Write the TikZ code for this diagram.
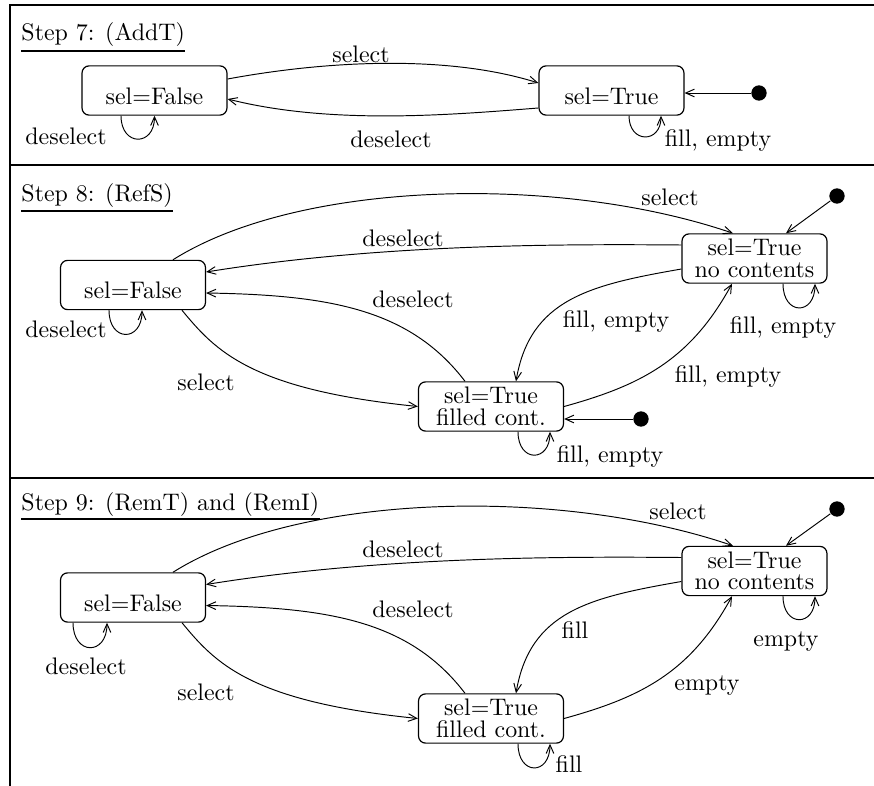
\documentclass[tikz,border=0pt]{standalone}
\usepackage{tikz}
\usetikzlibrary{arrows.meta, calc}

\tikzset{
  state/.style={draw, line width=0.5pt, rounded corners=3pt, minimum width=60.6pt, minimum height=20.6pt, inner xsep=2pt, inner ysep=0pt},
  onestate/.style={state, text height=16pt, text depth=4.6pt},
  twostate/.style={state, align=center},
  initdot/.style={circle, fill=black, inner sep=0pt, minimum size=6.4pt},
  trans/.style={line width=0.4pt, -{Straight Barb[length=3.6pt,width=3.2pt]}},
  lbl/.style={inner sep=0pt},
  frameline/.style={line width=0.5pt},
  steptitle/.style={inner sep=0pt, anchor=base west},
  titleline/.style={line width=1pt}
}

\begin{document}
\begin{tikzpicture}[x=0.418pt, y=-0.418pt]
    \useasboundingbox (0,0) rectangle (874,786);
    % Rahmen
    \draw[frameline] (10,786) -- (10,5) -- (874,5);
    \draw[frameline] (10,165) -- (874,165);
    \draw[frameline] (10,478) -- (874,478);

    % Step 7
    \node[steptitle] (t7) at (21,41) {Step 7: (AddT)};
    \draw[titleline] ($(t7.base west)+(0,10)$) -- ($(t7.base east)+(0,10)$);
    \node[onestate] (F7) at (154.5,90.5) {sel=False};
    \node[onestate] (T7) at (611.5,90.5) {sel=True};
    \node[initdot] (d7) at (759,93) {};
    \draw[trans] (d7) -- (d7 -| T7.east);
    \draw[trans] ($(F7.east)+(0,-11.5)$) .. controls +(103,-19) and +(-89,-28) .. ($(T7.west)+(0,-7.5)$);
    \draw[trans] ($(T7.west)+(0,17.5)$) .. controls +(-89,7) and +(103,26) .. ($(F7.east)+(0,8.5)$);
    \draw[trans] ($(F7.south)+(-33.5,0)$) .. controls +(0,31) and +(0,31) .. (F7.south);
    \draw[trans] ($(T7.south)+(17.5,0)$) .. controls +(0,28) and +(0,28) .. ($(T7.south)+(49.5,0)$);
    \node[lbl] (l7a) at (361,54) {select};
    \node[lbl] (l7b) at (391,139) {deselect};
    \node[lbl] (l7c) at (66,136) {deselect};
    \node[lbl] (l7d) at (718,141) {fill, empty};

    % Step 8
    \node[steptitle] (t8) at (21,202) {Step 8: (RefS)};
    \draw[titleline] ($(t8.base west)+(0,9)$) -- ($(t8.base east)+(0,9)$);
    \node[onestate] (F8) at (133,285) {sel=False};
    \node[twostate] (N8) at (754.5,258.5) {sel=True\\[-3pt]no contents};
    \node[twostate] (C8) at (491,406.5) {sel=True\\[-3pt]filled cont.};
    \node[initdot] (e8) at (837,196) {};
    \node[initdot] (g8) at (641,419) {};
    \draw[trans] (e8) -- ($(N8.north)+(31.5,0)$);
    \draw[trans] (g8) -- (g8 -| C8.east);
    \draw[trans] ($(F8.north)+(40,0)$) .. controls +(127,-80) and +(-173,-59) .. ($(N8.north)+(-21.5,0)$);
    \draw[trans] ($(N8.west)+(0,-13.5)$) .. controls +(-122,-1) and +(174,-28) .. ($(F8.east)+(0,-13)$);
    \draw[trans] ($(C8.north)+(-26,0)$) .. controls +(-55,-72) and +(124,2) .. ($(F8.east)+(0,8)$);
    \draw[trans] ($(F8.south)+(49,0)$) .. controls +(33,40) and +(-168,-17) .. (C8.west);
    \draw[trans] ($(N8.west)+(0,10.5)$) .. controls +(-92,16) and +(14,-82) .. ($(C8.north)+(25,0)$);
    \draw[trans] (C8.east) .. controls +(76,-21) and +(-42,77) .. ($(N8.south)+(-22.5,0)$);
    \draw[trans] ($(F8.south)+(-24,0)$) .. controls +(0,32) and +(0,32) .. ($(F8.south)+(9,0)$);
    \draw[trans] ($(N8.south)+(28.5,0)$) .. controls +(0,32) and +(0,32) .. ($(N8.south)+(60.5,0)$);
    \draw[trans] ($(C8.south)+(27,0)$) .. controls +(0,31) and +(0,31) .. ($(C8.south)+(59,0)$);
    \node[lbl] (l8a) at (670,197) {select};
    \node[lbl] (l8b) at (403,238) {deselect};
    \node[lbl] (l8c) at (413,299) {deselect};
    \node[lbl] (l8d) at (206,382) {select};
    \node[lbl] (l8e) at (616,322) {fill, empty};
    \node[lbl] (l8f) at (728,377) {fill, empty};
    \node[lbl] (l8g) at (783,328) {fill, empty};
    \node[lbl] (l8h) at (610,457) {fill, empty};
    \node[lbl] (l8i) at (66,329) {deselect};

    % Step 9
    \node[steptitle] (t9) at (21,510) {Step 9: (RemT) and (RemI)};
    \draw[titleline] ($(t9.base west)+(0,9)$) -- ($(t9.base east)+(0,9)$);
    \node[onestate] (F9) at (133,597.5) {sel=False};
    \node[twostate] (N9) at (754.5,571) {sel=True\\[-3pt]no contents};
    \node[twostate] (C9) at (491,718.5) {sel=True\\[-3pt]filled cont.};
    \node[initdot] (e9) at (837,509) {};
    \draw[trans] (e9) -- ($(N9.north)+(31.5,0)$);
    \draw[trans] ($(F9.north)+(40,0)$) .. controls +(127,-80) and +(-173,-59) .. ($(N9.north)+(-21.5,0)$);
    \draw[trans] ($(N9.west)+(0,-13.5)$) .. controls +(-122,-1) and +(174,-28) .. ($(F9.east)+(0,-13)$);
    \draw[trans] ($(C9.north)+(-26,0)$) .. controls +(-55,-72) and +(124,2) .. ($(F9.east)+(0,8)$);
    \draw[trans] ($(F9.south)+(49,0)$) .. controls +(33,40) and +(-168,-17) .. (C9.west);
    \draw[trans] ($(N9.west)+(0,10.5)$) .. controls +(-92,16) and +(14,-82) .. ($(C9.north)+(25,0)$);
    \draw[trans] (C9.east) .. controls +(76,-21) and +(-42,77) .. ($(N9.south)+(-22.5,0)$);
    \draw[trans] ($(F9.south)+(-60,0)$) .. controls +(0,33) and +(0,33) .. ($(F9.south)+(-26,0)$);
    \draw[trans] ($(N9.south)+(28.5,0)$) .. controls +(0,31) and +(0,31) .. ($(N9.south)+(60.5,0)$);
    \draw[trans] ($(C9.south)+(27,0)$) .. controls +(0,32) and +(0,32) .. ($(C9.south)+(59,0)$);
    \node[lbl] (l9a) at (678,511) {select};
    \node[lbl] (l9b) at (403,549) {deselect};
    \node[lbl] (l9c) at (413,609) {deselect};
    \node[lbl] (l9d) at (206,692) {select};
    \node[lbl] (l9e) at (575,630) {fill};
    \node[lbl] (l9f) at (707,686) {empty};
    \node[lbl] (l9g) at (786,642) {empty};
    \node[lbl] (l9h) at (569,764) {fill};
    \node[lbl] (l9i) at (86,666) {deselect};
\end{tikzpicture}
\end{document}
